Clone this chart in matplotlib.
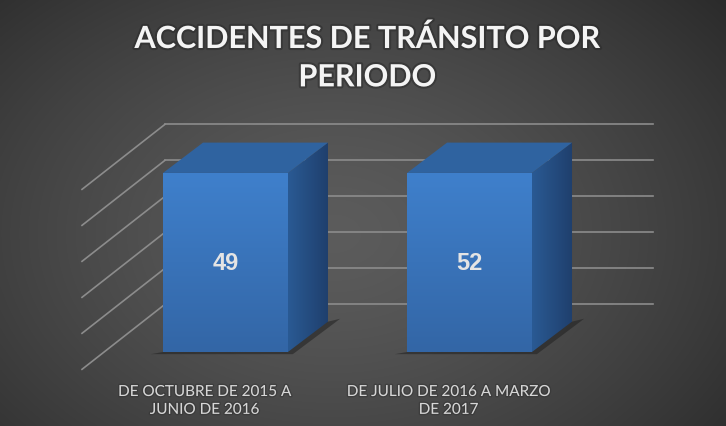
import numpy as np
import matplotlib.pyplot as plt
from matplotlib.patches import Polygon
import matplotlib.patheffects as pe

# datos
categorias = ["DE OCTUBRE DE 2015 A\nJUNIO DE 2016", "DE JULIO DE 2016 A MARZO\nDE 2017"]
valores = [49, 52]            # etiquetas de datos
alturas = [49, 49]            # altura dibujada de las barras (en la imagen son iguales)
grid_vals = [10, 20, 30, 40, 50, 60]
titulo = "ACCIDENTES DE TRÁNSITO POR\nPERIODO"

# geometria 3d (en unidades de datos)
ANCHO = 0.512
PROF_X, PROF_Y = 0.164, 8.3
PARED_X0, PARED_X1 = -0.248, 1.752
LAT_DX, LAT_DY = -0.340, -17.8
XLIM = (-0.924, 2.051)
YLIM = (-20.26, 96.6)

fig = plt.figure(figsize=(7.26, 4.27), dpi=100)
ax = fig.add_axes([0, 0, 1, 1])
ax.set_xlim(*XLIM)
ax.set_ylim(*YLIM)
ax.axis("off")

# fondo con degradado radial
u, w = np.meshgrid(np.linspace(0, 1, 400), np.linspace(0, 1, 250))
r = np.sqrt(((u - 0.46) / 0.62) ** 2 + ((w - 0.55) / 0.75) ** 2)
g = np.clip(0.36 - 0.16 * r ** 1.4, 0.12, 1)
fondo = np.dstack([g, g, g])
ax.imshow(fondo, extent=[XLIM[0], XLIM[1], YLIM[0], YLIM[1]], origin="upper",
          aspect="auto", zorder=0, interpolation="bilinear")

# lineas de cuadricula (pared de fondo y pared lateral)
gcol = "#8c8c8c"
for v in grid_vals:
    yb = 3.2 + 0.985 * v
    ax.plot([PARED_X0, PARED_X1], [yb, yb], color=gcol, lw=1.2, zorder=1)
    ax.plot([PARED_X0, PARED_X0 + LAT_DX], [yb, yb + LAT_DY], color=gcol, lw=1.2, zorder=1)


def degradado(ax, poly, c_arriba, c_abajo, horizontal=False):
    c1 = np.array(plt.matplotlib.colors.to_rgb(c_arriba))
    c2 = np.array(plt.matplotlib.colors.to_rgb(c_abajo))
    t = np.linspace(0, 1, 100)
    img = c1[None, :] * (1 - t[:, None]) + c2[None, :] * t[:, None]
    if horizontal:
        img = img[None, :, :]
    else:
        img = img[:, None, :]
    xs = [p[0] for p in poly]
    ys = [p[1] for p in poly]
    im = ax.imshow(img, extent=[min(xs), max(xs), min(ys), max(ys)], origin="upper",
                   aspect="auto", zorder=3, interpolation="bilinear")
    patch = Polygon(poly, closed=True, facecolor="none", edgecolor="none", zorder=3)
    ax.add_patch(patch)
    im.set_clip_path(patch)


for i, (h, val, cat) in enumerate(zip(alturas, valores, categorias)):
    x0, x1 = i - ANCHO / 2, i + ANCHO / 2
    # sombra
    sombra = [(x0 - 0.05, -0.6), (x1 + 0.02, -0.6), (x1 + PROF_X + 0.05, PROF_Y + 0.8),
              (x1 + PROF_X, PROF_Y), (x0, 0)]
    ax.add_patch(Polygon(sombra, closed=True, facecolor="#202020", edgecolor="none",
                         alpha=0.55, zorder=2))
    frente = [(x0, 0), (x1, 0), (x1, h), (x0, h)]
    lado = [(x1, 0), (x1 + PROF_X, PROF_Y), (x1 + PROF_X, h + PROF_Y), (x1, h)]
    tapa = [(x0, h), (x1, h), (x1 + PROF_X, h + PROF_Y), (x0 + PROF_X, h + PROF_Y)]
    degradado(ax, frente, "#3f80cc", "#3366a6")
    degradado(ax, lado, "#2a5a94", "#1f3f6c", horizontal=True)
    ax.add_patch(Polygon(tapa, closed=True, facecolor="#2f63a0", edgecolor="none", zorder=3))
    ax.text(i, h / 2, str(val), ha="center", va="center", color="#e4e4e4",
            fontsize=17, fontweight="bold", family="Liberation Sans", zorder=5)
    ax.text(i - 0.086, -13.4, cat, ha="center", va="center", color="#d6d6d6",
            fontsize=11, family="Lato", linespacing=1.35, zorder=5,
            path_effects=[pe.withStroke(linewidth=2, foreground="#2e2e2e", alpha=0.4)])

fig.text(0.506, 0.862, titulo, ha="center", va="center", color="#f4f4f4",
         fontsize=22, fontweight="bold", family="Lato", linespacing=1.45,
         path_effects=[pe.withStroke(linewidth=3, foreground="#262626", alpha=0.45)])

fig.savefig("out.png", dpi=100)
